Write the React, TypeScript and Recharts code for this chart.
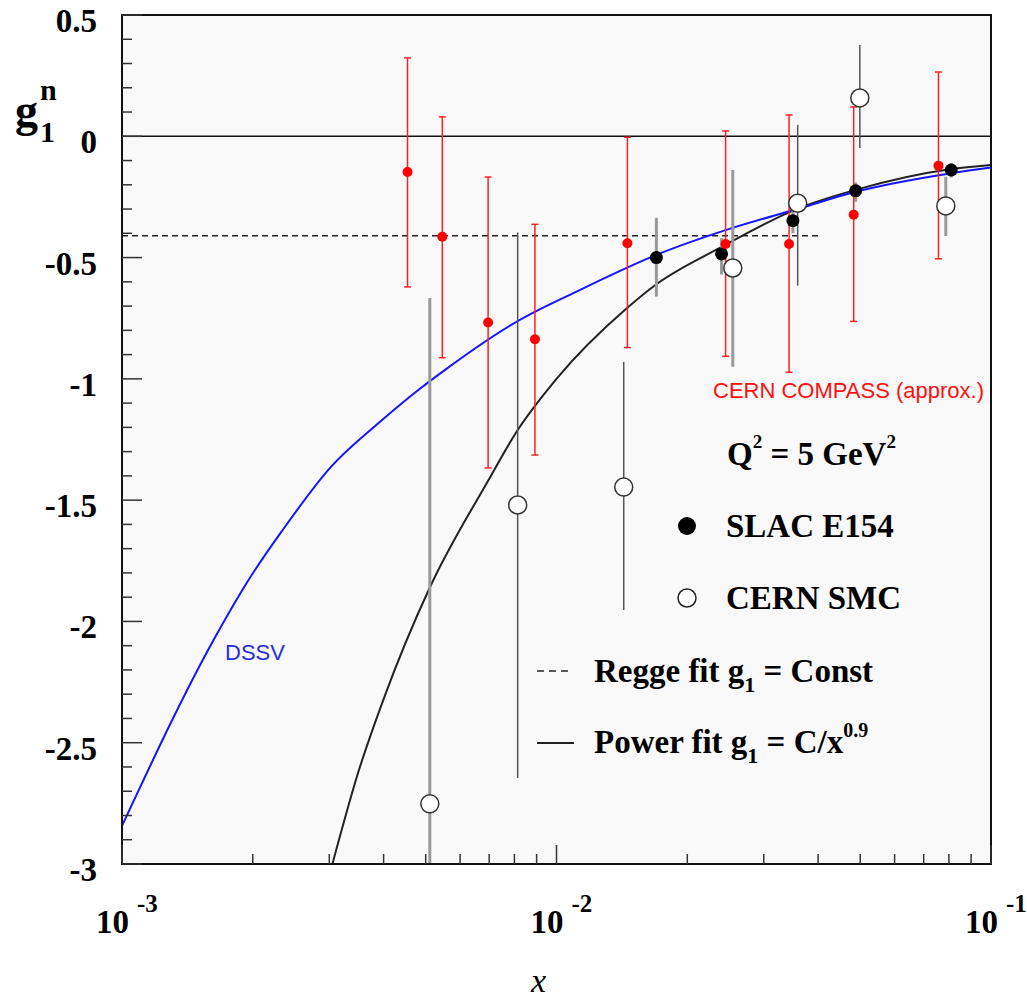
// g1 neutron structure function vs x: SLAC E154, CERN SMC, COMPASS points with fits and DSSV.

import { ComposedChart, Line, Scatter, XAxis, YAxis, ErrorBar, CartesianGrid, ReferenceLine, ReferenceArea } from 'recharts';

// CERN COMPASS (approx.), red points
const compassX = [0.00454, 0.00546, 0.00696, 0.00892, 0.01456, 0.0245, 0.0343, 0.0483, 0.0757];
const compassG = [-0.147, -0.414, -0.768, -0.837, -0.441, -0.444, -0.444, -0.323, -0.121];
const compassHigh = [0.323, 0.08, -0.168, -0.363, -0.004, 0.022, 0.088, 0.121, 0.265];
const compassLow = [-0.621, -0.913, -1.367, -1.314, -0.871, -0.907, -0.973, -0.763, -0.505];

// SLAC E154, filled points
const slacX = [0.01698, 0.02398, 0.035, 0.0488, 0.081];
const slacG = [-0.5, -0.485, -0.348, -0.225, -0.139];
const slacHigh = [-0.336, -0.42, -0.3, -0.19, -0.11];
const slacLow = [-0.661, -0.57, -0.4, -0.27, -0.17];

// CERN SMC, open points (thin dark bars / thick grey bars)
const smcThinX = [0.00814, 0.01428, 0.0359, 0.0499];
const smcThinG = [-1.52, -1.446, -0.276, 0.158];
const smcThinHigh = [-0.397, -0.93, 0.047, 0.376];
const smcThinLow = [-2.645, -1.953, -0.616, -0.048];

const smcThickX = [0.00511, 0.02545, 0.0787];
const smcThickG = [-2.752, -0.543, -0.287];
const smcThickHigh = [-0.667, -0.139, -0.167];
const smcThickLow = [-3.0, -0.95, -0.411];

// curves
const powerX = [0.00305, 0.0035, 0.004, 0.00511, 0.00696, 0.00808, 0.01, 0.01449, 0.01698, 0.02376, 0.0357, 0.049, 0.0804, 0.1];
const powerG = [-3.0, -2.62, -2.32, -1.86, -1.42, -1.22, -1.0, -0.71, -0.61, -0.46, -0.3, -0.22, -0.136, -0.118];

const dssvX = [0.001, 0.001633, 0.001949, 0.002326, 0.00303, 0.00395, 0.00484, 0.00553, 0.00814, 0.01131, 0.01698, 0.0246, 0.0363, 0.049, 0.0804, 0.1];
const dssvG = [-2.843, -2.069, -1.833, -1.631, -1.362, -1.173, -1.042, -0.964, -0.762, -0.634, -0.489, -0.386, -0.297, -0.228, -0.153, -0.129];

const reggeX = [0.001, 0.04];
const reggeG = [-0.41, -0.41];

const xTicks = [0.001, 0.002, 0.003, 0.004, 0.005, 0.006, 0.007, 0.008, 0.009, 0.01, 0.02, 0.03, 0.04, 0.05, 0.06, 0.07, 0.08, 0.09, 0.1];
const yTicks = [
  0.5, 0.4, 0.3, 0.2, 0.1, 0, -0.1, -0.2, -0.3, -0.4, -0.5, -0.6, -0.7, -0.8, -0.9, -1, -1.1, -1.2, -1.3, -1.4, -1.5,
  -1.6, -1.7, -1.8, -1.9, -2, -2.1, -2.2, -2.3, -2.4, -2.5, -2.6, -2.7, -2.8, -2.9, -3,
];
const xMajor = [0.001, 0.01, 0.1];

const withErr = (xs: number[], gs: number[], hi: number[], lo: number[]) =>
  xs.map((x, i) => ({ x, g: gs[i], err: [gs[i] - lo[i], hi[i] - gs[i]] }));
const curve = (xs: number[], gs: number[]) => xs.map((x, i) => ({ x, g: gs[i] }));

const compass = withErr(compassX, compassG, compassHigh, compassLow);
const slac = withErr(slacX, slacG, slacHigh, slacLow);
const smcThin = withErr(smcThinX, smcThinG, smcThinHigh, smcThinLow);
const smcThick = withErr(smcThickX, smcThickG, smcThickHigh, smcThickLow);
const power = curve(powerX, powerG);
const dssv = curve(dssvX, dssvG);
const regge = curve(reggeX, reggeG);

const serif = '"Liberation Serif", "Times New Roman", serif';
const sans = '"Liberation Sans", Arial, sans-serif';

const YTick = (props: any) => {
  const { x, y, payload } = props;
  const v = payload.value;
  const major = Math.abs(v * 2 - Math.round(v * 2)) < 1e-6;
  return (
    <g>
      <line x1={x} y1={y} x2={x + (major ? 20 : 10)} y2={y} stroke="#333" strokeWidth={1.5} />
      {major && (
        <text x={x - 25} y={y + 17} textAnchor="end" fontFamily={serif} fontWeight="bold" fontSize={33} fill="#000">
          {String(v)}
        </text>
      )}
    </g>
  );
};

const XTick = (props: any) => {
  const { x, y, payload } = props;
  const v = payload.value;
  const isMajor = xMajor.some((m) => Math.abs(m - v) < 1e-9);
  const exp = Math.round(Math.log10(v));
  return (
    <g>
      <line x1={x} y1={y} x2={x} y2={y - (isMajor ? 19 : 10)} stroke="#333" strokeWidth={1.5} />
      {isMajor && (
        <text x={x - 26} y={y + 69} fontFamily={serif} fontWeight="bold" fontSize={33} fill="#000">
          10
          <tspan dx={8} dy={-21} fontSize={25}>
            {String(exp)}
          </tspan>
        </text>
      )}
    </g>
  );
};

const dot = (r: number, fill: string, stroke = 'none') => (p: any) => (
  <circle cx={p.cx} cy={p.cy} r={r} fill={fill} stroke={stroke} strokeWidth={1.5} />
);

export default function App() {
  return (
    <div style={{ position: 'absolute', left: 0, top: 0, width: 1027, height: 999, background: '#fff' }}>
      <ComposedChart width={1027} height={999} margin={{ top: 15, right: 36, bottom: 35, left: 0 }}>
        <CartesianGrid horizontal={false} vertical={false} fill="#f9f9f9" />
        <XAxis
          dataKey="x"
          type="number"
          scale="log"
          domain={[0.001, 0.1]}
          allowDataOverflow
          ticks={xTicks}
          interval={0}
          height={100}
          tickSize={0}
          tickMargin={0}
          axisLine={{ stroke: '#111', strokeWidth: 2 }}
          tick={XTick}
        />
        <YAxis
          type="number"
          domain={[-3, 0.5]}
          allowDataOverflow
          ticks={yTicks}
          interval={0}
          width={122}
          tickSize={0}
          tickMargin={0}
          axisLine={{ stroke: '#111', strokeWidth: 2 }}
          tick={YTick}
        />
        <ReferenceLine y={0} stroke="#111" strokeWidth={1.5} />
        <Line data={regge} dataKey="g" stroke="#222" strokeWidth={1.5} strokeDasharray="6 4" dot={false} isAnimationActive={false} />
        <Line data={power} dataKey="g" type="monotone" stroke="#222" strokeWidth={2} dot={false} isAnimationActive={false} />
        <Line data={dssv} dataKey="g" type="monotone" stroke="#1414ff" strokeWidth={2} dot={false} isAnimationActive={false} />
        <Scatter data={smcThick} dataKey="g" shape={dot(9, '#fff', '#333')} isAnimationActive={false}>
          <ErrorBar dataKey="err" direction="y" width={0} stroke="#999" strokeWidth={3} />
        </Scatter>
        <Scatter data={smcThin} dataKey="g" shape={dot(9, '#fff', '#333')} isAnimationActive={false}>
          <ErrorBar dataKey="err" direction="y" width={0} stroke="#555" strokeWidth={1.5} />
        </Scatter>
        <Scatter data={slac} dataKey="g" shape={dot(6.5, '#000')} isAnimationActive={false}>
          <ErrorBar dataKey="err" direction="y" width={0} stroke="#999" strokeWidth={3} />
        </Scatter>
        <Scatter data={compass} dataKey="g" shape={dot(5, '#ff0000')} isAnimationActive={false}>
          <ErrorBar dataKey="err" direction="y" width={3.5} stroke="#ff2020" strokeWidth={1.5} />
        </Scatter>
        <ReferenceArea x1={0.001} x2={0.1} y1={-3} y2={0.5} fill="none" stroke="#111" strokeWidth={2} />
      </ComposedChart>
      <svg width={1027} height={999} style={{ position: 'absolute', left: 0, top: 0, pointerEvents: 'none' }}>
        {/* y-axis title g1^n */}
        <text x={15} y={126} fontFamily={serif} fontWeight="bold" fontSize={46}>g</text>
        <text x={40} y={100} fontFamily={serif} fontWeight="bold" fontSize={30}>n</text>
        <text x={40} y={142} fontFamily={serif} fontWeight="bold" fontSize={30}>1</text>
        {/* x-axis title */}
        <text x={531} y={992} fontFamily={serif} fontStyle="italic" fontSize={34}>x</text>
        {/* annotations */}
        <text x={713} y={398} fontFamily={sans} fontSize={22} fill="#ff1010">CERN COMPASS (approx.)</text>
        <text x={225} y={660} fontFamily={sans} fontSize={22} fill="#2a2ae6">DSSV</text>
        {/* legend */}
        <text x={727} y={465} fontFamily={serif} fontWeight="bold" fontSize={33}>
          Q<tspan dy={-17} fontSize={19}>2</tspan>
          <tspan dy={17}>{' = 5 GeV'}</tspan>
          <tspan dy={-17} fontSize={19}>2</tspan>
        </text>
        <circle cx={687} cy={526} r={9} fill="#000" />
        <text x={726} y={537} fontFamily={serif} fontWeight="bold" fontSize={33}>SLAC E154</text>
        <circle cx={687} cy={598} r={9} fill="#fff" stroke="#222" strokeWidth={1.5} />
        <text x={726} y={609} fontFamily={serif} fontWeight="bold" fontSize={33}>CERN SMC</text>
        <line x1={537} y1={671} x2={573} y2={671} stroke="#222" strokeWidth={1.5} strokeDasharray="7 5" />
        <text x={594} y={682} fontFamily={serif} fontWeight="bold" fontSize={33}>
          Regge fit g<tspan dy={10} fontSize={22}>1</tspan>
          <tspan dy={-10}>{' = Const'}</tspan>
        </text>
        <line x1={537} y1={743} x2={574} y2={743} stroke="#222" strokeWidth={2} />
        <text x={594} y={753} fontFamily={serif} fontWeight="bold" fontSize={33}>
          Power fit g<tspan dy={10} fontSize={22}>1</tspan>
          <tspan dy={-10}>{' = C/x'}</tspan>
          <tspan dy={-16} fontSize={20}>0.9</tspan>
        </text>
      </svg>
    </div>
  );
}
